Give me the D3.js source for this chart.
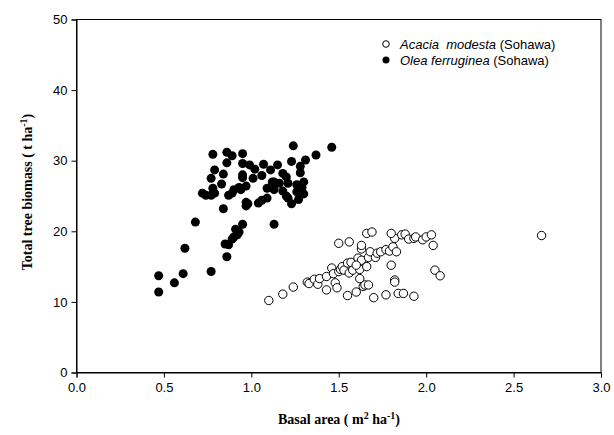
<!DOCTYPE html>
<html>
<head>
<meta charset="utf-8">
<script src="https://cdn.jsdelivr.net/npm/d3@7"></script>
<style>
  body { margin: 0; background: #fff; }
  .tick text { font-family: "Liberation Sans", Arial, sans-serif; font-size: 13px; fill: #000; }
  .tick line, .domain { stroke: #000; }
</style>
</head>
<body>
<div id="chart"></div>
<script>
// Olea ferruginea (Sohawa), filled
var oleaX = [0.47, 0.47, 0.56, 0.61, 0.62, 0.68, 0.77, 0.84, 0.97, 0.95, 0.91, 0.92, 0.89, 0.85, 0.87, 0.86, 0.90, 0.93,
  0.78, 0.86, 0.89, 0.95, 0.86, 0.95, 0.99, 1.02, 0.79, 0.84, 0.77, 0.83, 0.95, 0.95, 1.01, 0.72, 0.74, 0.77, 0.79, 0.78,
  0.87, 0.89, 0.90, 0.93, 0.94, 0.97, 0.98, 1.24, 1.37, 1.46, 1.07, 1.15, 1.23, 1.31, 1.28, 1.06, 1.11, 1.18, 1.20, 1.13,
  1.16, 1.21, 1.26, 1.09, 1.13, 1.18, 1.26, 1.21, 1.09, 1.06, 0.97, 1.12, 1.28, 1.30, 1.29, 1.30, 1.27, 1.23, 1.20, 1.13, 1.04];
var oleaY = [11.4, 13.7, 12.7, 14.0, 17.6, 21.3, 14.3, 23.2, 23.6, 21.0, 20.3, 19.5, 18.9, 18.2, 18.1, 16.4, 19.2, 19.9,
  30.9, 31.2, 30.7, 31.0, 29.7, 29.6, 29.4, 28.8, 28.7, 28.1, 27.5, 26.7, 28.0, 27.6, 27.5, 25.4, 25.1, 25.1, 25.4, 26.1,
  25.1, 25.4, 25.9, 26.2, 25.9, 26.4, 23.9, 32.1, 30.8, 31.9, 29.5, 29.4, 29.9, 30.1, 29.2, 27.9, 28.7, 28.2, 27.7, 27.0,
  26.8, 26.8, 26.6, 26.1, 25.9, 25.7, 25.6, 24.7, 24.7, 24.4, 24.1, 27.0, 28.3, 27.0, 26.2, 25.3, 24.5, 23.9, 25.0, 21.0, 24.0];

// Acacia modesta (Sohawa), open
var acaciaX = [1.10, 1.18, 1.24, 1.32, 1.33, 1.36, 1.38, 1.39, 1.43, 1.43, 1.46, 1.47, 1.48, 1.49, 1.50, 1.51, 1.52, 1.53,
  1.55, 1.56, 1.57, 1.58, 1.60, 1.61, 1.62, 1.62, 1.63, 1.64, 1.65, 1.66, 1.67, 1.67, 1.68, 1.70, 1.71, 1.72, 1.74, 1.77,
  1.77, 1.79, 1.80, 1.81, 1.82, 1.82, 1.83, 1.82, 1.84, 1.86, 1.87, 1.88, 1.90, 1.93, 1.93, 1.94, 1.98, 2.00, 2.03, 2.04,
  2.05, 2.08, 1.50, 1.56, 1.63, 1.63, 1.66, 1.69, 1.80, 1.55, 1.60, 2.66];
var acaciaY = [10.2, 11.1, 12.1, 12.8, 12.6, 13.2, 12.5, 13.3, 13.6, 11.7, 14.8, 14.0, 12.7, 12.0, 14.3, 14.6, 15.0, 14.5,
  15.5, 14.1, 15.6, 14.5, 11.4, 16.2, 14.6, 13.3, 15.9, 12.2, 12.4, 15.0, 16.3, 12.4, 17.1, 10.6, 16.3, 16.9, 17.1, 17.4,
  11.0, 17.2, 15.2, 17.8, 13.1, 12.8, 17.1, 19.0, 11.2, 19.5, 11.2, 19.6, 18.9, 10.8, 19.0, 19.2, 18.8, 19.2, 19.5, 18.0,
  14.5, 13.7, 18.3, 18.5, 17.5, 18.0, 19.7, 19.9, 19.7, 10.9, 15.2, 19.4];

var xTicks = [0, 0.5, 1.0, 1.5, 2.0, 2.5, 3.0];
var yTicks = [0, 10, 20, 30, 40, 50];

var olea = oleaX.map(function (d, i) { return { x: d, y: oleaY[i] }; });
var acacia = acaciaX.map(function (d, i) { return { x: d, y: acaciaY[i] }; });

var svgWidth = 614, svgHeight = 435;

var svg = d3.select("#chart")
    .append("svg")
    .attr("width", svgWidth)
    .attr("height", svgHeight);

var xScale = d3.scaleLinear().domain([0, 3]).range([76.5, 601]);
var yScale = d3.scaleLinear().domain([0, 50]).range([372.5, 19.5]);

// frame
svg.append("rect")
    .attr("x", xScale(0))
    .attr("y", yScale(50))
    .attr("width", xScale(3) - xScale(0))
    .attr("height", yScale(0) - yScale(50))
    .attr("fill", "none")
    .attr("stroke", "#000")
    .attr("stroke-width", 1);

// axes
svg.append("g")
    .attr("transform", `translate(0, ${yScale(0)})`)
    .call(d3.axisBottom(xScale).tickValues(xTicks).tickFormat(d3.format(".1f")).tickSize(5).tickPadding(5));

svg.append("g")
    .attr("transform", `translate(${xScale(0)}, 0)`)
    .call(d3.axisLeft(yScale).tickValues(yTicks).tickFormat(d3.format("d")).tickSize(5).tickPadding(4));

// points
svg.append("g").selectAll("circle")
    .data(olea)
    .enter()
    .append("circle")
    .attr("cx", d => xScale(d.x))
    .attr("cy", d => yScale(d.y))
    .attr("r", 4.5)
    .attr("fill", "#000");

svg.append("g").selectAll("circle")
    .data(acacia)
    .enter()
    .append("circle")
    .attr("cx", d => xScale(d.x))
    .attr("cy", d => yScale(d.y))
    .attr("r", 4.2)
    .attr("fill", "#fff")
    .attr("stroke", "#000")
    .attr("stroke-width", 1);

// legend
var legend = svg.append("g").attr("font-family", "Liberation Sans, Arial, sans-serif").attr("font-size", 13);
legend.append("circle").attr("cx", 386).attr("cy", 44).attr("r", 3.3).attr("fill", "#fff").attr("stroke", "#000");
legend.append("circle").attr("cx", 386).attr("cy", 60).attr("r", 3.5).attr("fill", "#000");
var t1 = legend.append("text").attr("x", 400).attr("y", 48.5).attr("xml:space", "preserve");
t1.append("tspan").attr("font-style", "italic").text("Acacia  modesta");
t1.append("tspan").text(" (Sohawa)");
var t2 = legend.append("text").attr("x", 400).attr("y", 64.5);
t2.append("tspan").attr("font-style", "italic").text("Olea ferruginea");
t2.append("tspan").text(" (Sohawa)");

// axis titles
var xt = svg.append("text")
    .attr("x", 339).attr("y", 424)
    .attr("text-anchor", "middle")
    .attr("font-family", "Liberation Serif, Times New Roman, serif")
    .attr("font-weight", "bold").attr("font-size", 14);
xt.append("tspan").text("Basal area ( m");
xt.append("tspan").attr("dy", -5).attr("font-size", 10).text("2");
xt.append("tspan").attr("dy", 5).text(" ha");
xt.append("tspan").attr("dy", -5).attr("font-size", 10).text("-1");
xt.append("tspan").attr("dy", 5).text(")");

var yt = svg.append("text")
    .attr("transform", "translate(32, 192) rotate(-90)")
    .attr("text-anchor", "middle")
    .attr("font-family", "Liberation Serif, Times New Roman, serif")
    .attr("font-weight", "bold").attr("font-size", 14);
yt.append("tspan").text("Total tree biomass ( t ha");
yt.append("tspan").attr("dy", -5).attr("font-size", 10).text("-1");
yt.append("tspan").attr("dy", 5).text(")");
</script>
</body>
</html>
